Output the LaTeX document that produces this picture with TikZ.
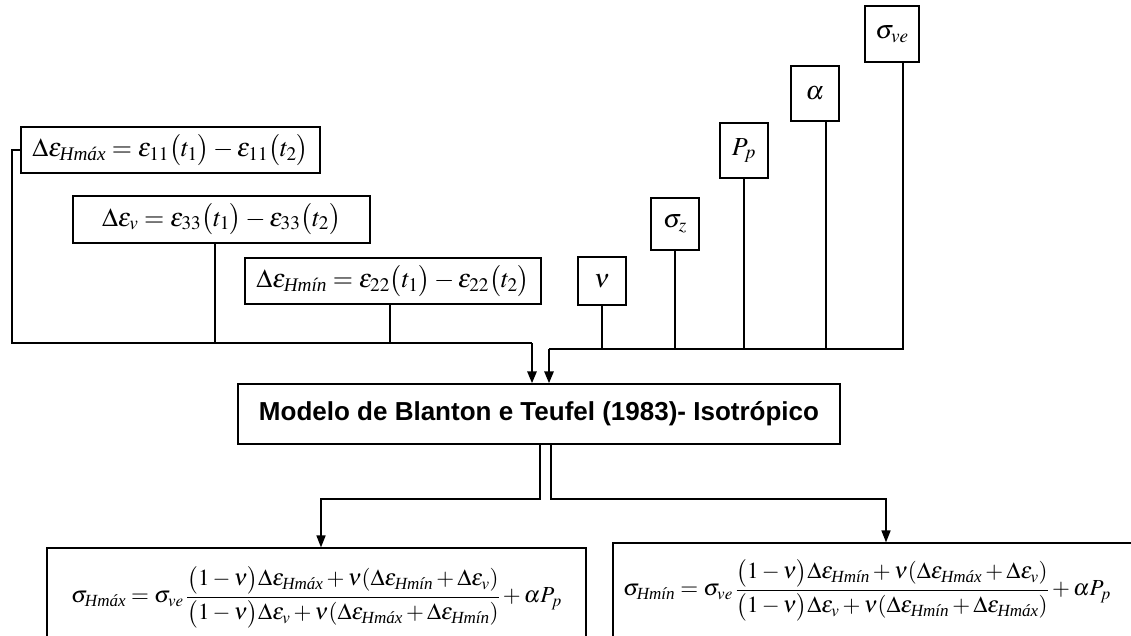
\documentclass[tikz,border=0pt]{standalone}
\usepackage{amsmath}
\IfFileExists{mathptmx.sty}{\usepackage{mathptmx}}{}
\usepackage[no-math]{fontspec}
\setmainfont{Liberation Serif}
\setsansfont{Liberation Sans}
\usetikzlibrary{arrows.meta}
\newcommand{\Hmax}{\textit{Hmáx}}
\newcommand{\Hmin}{\textit{Hmín}}

\begin{document}
\begin{tikzpicture}[x=1pt,y=-1pt,
	box/.style={draw,line width=1.2pt,inner sep=0pt,font=\fontsize{26}{30}\selectfont},
	formula/.style={box,font=\fontsize{23}{27}\selectfont},
	thin line/.style={line width=1.1pt},
	mid line/.style={line width=1.6pt},
	bold line/.style={line width=2.6pt},
	tip/.style={-{Triangle[width=9pt,length=12pt]}}]
	\useasboundingbox (0,0) rectangle (1131,635);
	% input strains
	\node[box,minimum width=299,minimum height=46] (hmax) at (170.5,150) {$\Delta\varepsilon_{\Hmax}=\varepsilon_{11}\bigl(t_1\bigr)-\varepsilon_{11}\bigl(t_2\bigr)$};
	\node[box,minimum width=297,minimum height=47] (ev) at (221.5,219.5) {$\Delta\varepsilon_{v}=\varepsilon_{33}\bigl(t_1\bigr)-\varepsilon_{33}\bigl(t_2\bigr)$};
	\node[box,minimum width=296,minimum height=46] (hmin) at (393,281) {$\Delta\varepsilon_{\Hmin}=\varepsilon_{22}\bigl(t_1\bigr)-\varepsilon_{22}\bigl(t_2\bigr)$};
	% input parameters
	\node[box,minimum width=48,minimum height=48] (nu) at (602,281) {$\nu$};
	\node[box,minimum width=48,minimum height=52] (sz) at (675,224) {$\sigma_z$};
	\node[box,minimum width=48,minimum height=55] (pp) at (744,150.5) {$P_p$};
	\node[box,minimum width=48,minimum height=55] (al) at (815,93.5) {$\alpha$};
	\node[box,minimum width=54,minimum height=56] (sve) at (892,34) {$\sigma_{ve}$};
	% model
	\node[box,minimum width=602,minimum height=60,font=\fontsize{26}{30}\selectfont\sffamily\bfseries] (model) at (539,414) {Modelo de Blanton e Teufel (1983)- Isotrópico};
	% results
	\node[formula,minimum width=539,minimum height=98] (outL) at (316.5,597) {$\sigma_{\Hmax}=\sigma_{ve}\,\dfrac{\bigl(1-\nu\bigr)\Delta\varepsilon_{\Hmax}+\nu(\Delta\varepsilon_{\Hmin}+\Delta\varepsilon_{v})}{\bigl(1-\nu\bigr)\Delta\varepsilon_{v}+\nu(\Delta\varepsilon_{\Hmax}+\Delta\varepsilon_{\Hmin})}+\alpha P_p$};
	\node[formula,minimum width=560,minimum height=94] (outR) at (893,590) {$\sigma_{\Hmin}=\sigma_{ve}\,\dfrac{\bigl(1-\nu\bigr)\Delta\varepsilon_{\Hmin}+\nu(\Delta\varepsilon_{\Hmax}+\Delta\varepsilon_{v})}{\bigl(1-\nu\bigr)\Delta\varepsilon_{v}+\nu(\Delta\varepsilon_{\Hmin}+\Delta\varepsilon_{\Hmax})}+\alpha P_p$\hspace*{52pt}};
	% left bus
	\coordinate (lb) at (12,343);
	\coordinate (fv) at (215,343);
	\coordinate (fhmin) at (390,343);
	\coordinate (jl) at (532,343);
	\draw[thin line] (hmax.west) -| (lb) -- (fv);
	\draw[mid line] (fv |- ev.south) -- (fv);
	\draw[bold line] (fhmin |- hmin.south) -- (fhmin);
	\draw[bold line] (fv) -- (jl);
	\draw[bold line,tip] (jl) -- (jl |- model.north);
	% right bus
	\coordinate (jr) at (549,349);
	\coordinate (fal) at (826,349);
	\coordinate (fve) at (903,349);
	\draw[bold line] (nu.south) -- (nu.south |- jr);
	\draw[mid line] (sz.south) -- (sz.south |- jr);
	\draw[mid line] (pp.south) -- (pp.south |- jr);
	\draw[bold line] (fal |- al.south) -- (fal);
	\draw[mid line] (fve |- sve.south) -- (fve) -- (fal);
	\draw[bold line] (fal) -- (jr);
	\draw[bold line,tip] (jr) -- (jr |- model.north);
	% outputs
	\coordinate (ol) at (540,499);
	\coordinate (or) at (551,499);
	\draw[mid line,tip] (ol |- model.south) -- (ol) -| ([xshift=4.5pt]outL.north);
	\draw[mid line,tip] (or |- model.south) -- (or) -| ([xshift=-7pt]outR.north);
\end{tikzpicture}
\end{document}
